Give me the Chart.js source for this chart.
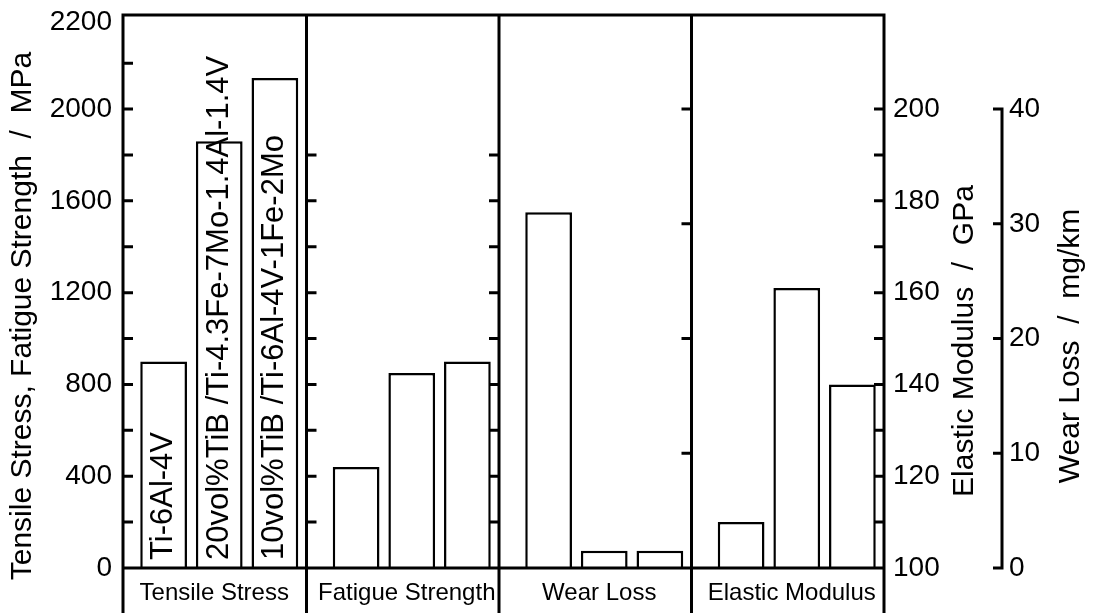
<!DOCTYPE html>
<html>
<head>
<meta charset="utf-8">
<script src="https://cdn.jsdelivr.net/npm/chart.js@4.4.1/dist/chart.umd.min.js"></script>
<style>
  html, body { margin: 0; padding: 0; background: #fff; }
  #caixa { width: 1093px; height: 613px; position: relative; }
</style>
</head>
<body>
<div id="caixa"><canvas id="grafico"></canvas></div>
<script>
// painéis (categorias do eixo x)
var propriedades = ["Tensile Stress", "Fatigue Strength", "Wear Loss", "Elastic Modulus"];
var materiais = ["Ti-6Al-4V", "20vol%TiB /Ti-4.3Fe-7Mo-1.4Al-1.4V", "10vol%TiB /Ti-6Al-4V-1Fe-2Mo"];

// valores, um por material
var tensao = [900, 1860, 2135];   // MPa
var fadiga = [440, 850, 900];     // MPa
var desgaste = [31, 1.5, 1.5];    // mg/km
var modulo = [110, 161, 140];     // GPa

// rótulos dos eixos
var valoresMPa = [0, 400, 800, 1200, 1600, 2000];
var rotulosMPa = ["0", "400", "800", "1200", "1600", "2000", "2200"];
var valoresModulo = [100, 120, 140, 160, 180, 200];
var valoresDesgaste = [0, 10, 20, 30, 40];

// marcas curtas dentro dos painéis
var marcasMPa = [200, 400, 600, 800, 1000, 1200, 1400, 1600, 1800, 2000, 2200];
var marcasFadiga = [200, 400, 600, 800, 1000, 1200, 1400, 1600, 1800];
var marcasDesgaste = [10, 20, 30, 40];
var marcasModulo = [110, 120, 130, 140, 150, 160, 170, 180, 190, 200];

var tituloEsq = "Tensile Stress, Fatigue Strength  /  MPa";
var tituloModulo = "Elastic Modulus  /  GPa";
var tituloDesgaste = "Wear Loss  /  mg/km";

var topoMPa = 2410;
var posRotuloTopo = 2380;   // o "2200" fica colado na borda de cima
var recuo = 9;   // as divisões ficam um pouco à esquerda do meio entre grupos
var fonte = "'Liberation Sans', Arial, sans-serif";

Chart.defaults.font.family = fonte;
Chart.defaults.color = '#000';

var conjuntos = [];
for (var i = 0; i < materiais.length; i++) {
    var estilo = {
        label: materiais[i],
        stack: 'm' + i,
        backgroundColor: '#fff',
        borderColor: '#000',
        borderWidth: 2.5,
        barPercentage: 0.84,
        categoryPercentage: 0.867
    };
    conjuntos.push(Object.assign({ yAxisID: 'y', data: [tensao[i], fadiga[i], null, null] }, estilo));
    conjuntos.push(Object.assign({ yAxisID: 'yW', data: [null, null, desgaste[i], null] }, estilo));
    conjuntos.push(Object.assign({ yAxisID: 'yE', data: [null, null, null, modulo[i]] }, estilo));
}

function semPadding(s) {
    s.paddingTop = 0;
    s.paddingBottom = 0;
}

// moldura, divisões dos painéis, marcas e textos
var moldura = {
    id: 'moldura',
    afterDatasetsDraw: function(chart) {
        var ctx = chart.ctx;
        var a = chart.chartArea;
        var x = chart.scales.x, y = chart.scales.y, yE = chart.scales.yE, yW = chart.scales.yW;
        var bordas = [a.left];
        for (var k = 1; k < propriedades.length; k++) {
            bordas.push((x.getPixelForValue(k - 1) + x.getPixelForValue(k)) / 2 - recuo);
        }
        bordas.push(a.right - recuo);
        var dir = bordas[bordas.length - 1];

        ctx.save();
        ctx.strokeStyle = '#000';
        ctx.lineWidth = 3;
        ctx.lineCap = 'butt';
        ctx.beginPath();
        bordas.forEach(function(b) {
            ctx.moveTo(b, a.top - 1.5);
            ctx.lineTo(b, chart.height);
        });
        ctx.moveTo(a.left - 1.5, a.top);
        ctx.lineTo(dir + 1.5, a.top);
        ctx.moveTo(a.left, a.bottom);
        ctx.lineTo(dir, a.bottom);

        function marcas(xb, sentido, escala, valores) {
            valores.forEach(function(v) {
                var py = escala.getPixelForValue(v);
                ctx.moveTo(xb, py);
                ctx.lineTo(xb + sentido * 10, py);
            });
        }
        marcas(bordas[0], 1, y, marcasMPa);
        marcas(bordas[1], 1, y, marcasFadiga);
        marcas(bordas[2], -1, y, marcasFadiga);
        marcas(bordas[3], -1, yW, marcasDesgaste);
        marcas(bordas[4], -1, yE, marcasModulo);

        // eixo separado do desgaste
        var xw = yW.left;
        var yTopo = yW.getPixelForValue(valoresDesgaste[valoresDesgaste.length - 1]);
        var yBase = yW.getPixelForValue(valoresDesgaste[0]);
        ctx.moveTo(xw - 9, yTopo);
        ctx.lineTo(xw, yTopo);
        ctx.lineTo(xw, yBase);
        ctx.lineTo(xw - 9, yBase);
        valoresDesgaste.slice(1, -1).forEach(function(v) {
            var py = yW.getPixelForValue(v);
            ctx.moveTo(xw, py);
            ctx.lineTo(xw - 9, py);
        });
        ctx.stroke();

        // nomes dos materiais dentro das barras de tração
        ctx.fillStyle = '#000';
        ctx.font = '31px ' + fonte;
        ctx.textAlign = 'left';
        ctx.textBaseline = 'middle';
        for (var m = 0; m < materiais.length; m++) {
            var barra = chart.getDatasetMeta(m * 3).data[0];
            ctx.save();
            ctx.translate(barra.x, barra.base - 8);
            ctx.rotate(-Math.PI / 2);
            ctx.fillText(materiais[m], 0, 0);
            ctx.restore();
        }

        // títulos dos eixos
        ctx.font = '30px ' + fonte;
        function titulo(texto, tx, ty) {
            ctx.save();
            ctx.translate(tx, ty);
            ctx.rotate(-Math.PI / 2);
            ctx.textAlign = 'center';
            ctx.fillText(texto, 0, 0);
            ctx.restore();
        }
        titulo(tituloEsq, y.left + 23, 316);
        titulo(tituloModulo, yE.left + 72, 341);
        titulo(tituloDesgaste, yW.left + 69, 346);
        ctx.restore();
    }
};

var ctx = document.getElementById("grafico");

var grafico = new Chart(ctx, {
    type: 'bar',
    data: {
        labels: propriedades,
        datasets: conjuntos
    },
    options: {
        responsive: true,
        maintainAspectRatio: false,
        animation: false,
        layout: { padding: { top: 15, left: 0, right: 0, bottom: 0 } },
        plugins: {
            legend: { display: false },
            tooltip: { enabled: false }
        },
        scales: {
            x: {
                type: 'category',
                offset: true,
                grid: { display: false, drawTicks: false },
                border: { display: false },
                ticks: { font: { size: 24 }, padding: 11, labelOffset: -5, maxRotation: 0, autoSkip: false },
                afterFit: function(s) {
                    s.height = 45;
                    s.paddingLeft = 0;
                    s.paddingRight = 0;
                }
            },
            y: {
                position: 'left',
                min: 0,
                max: topoMPa,
                stacked: false,
                grid: { display: false, drawTicks: false },
                border: { display: false },
                afterBuildTicks: function(s) {
                    s.ticks = valoresMPa.concat([posRotuloTopo]).map(function(v) { return { value: v }; });
                },
                ticks: {
                    font: { size: 28 },
                    padding: 11,
                    callback: function(v, idx) { return rotulosMPa[idx]; }
                },
                afterFit: function(s) {
                    s.width = 123;
                    semPadding(s);
                }
            },
            yE: {
                position: 'right',
                min: 100,
                max: 100 + topoMPa / 20,
                stacked: false,
                weight: 0,
                grid: { display: false, drawTicks: false },
                border: { display: false },
                afterBuildTicks: function(s) {
                    s.ticks = valoresModulo.map(function(v) { return { value: v }; });
                },
                ticks: { font: { size: 28 }, padding: 0 },
                afterFit: function(s) {
                    s.width = 109;
                    semPadding(s);
                }
            },
            yW: {
                position: 'right',
                min: 0,
                max: topoMPa / 50,
                stacked: false,
                weight: 1,
                grid: { display: false, drawTicks: false },
                border: { display: false },
                afterBuildTicks: function(s) {
                    s.ticks = valoresDesgaste.map(function(v) { return { value: v }; });
                },
                ticks: { font: { size: 28 }, padding: 7 },
                afterFit: function(s) {
                    s.width = 91;
                    semPadding(s);
                }
            }
        }
    },
    plugins: [moldura]
});
</script>
</body>
</html>
